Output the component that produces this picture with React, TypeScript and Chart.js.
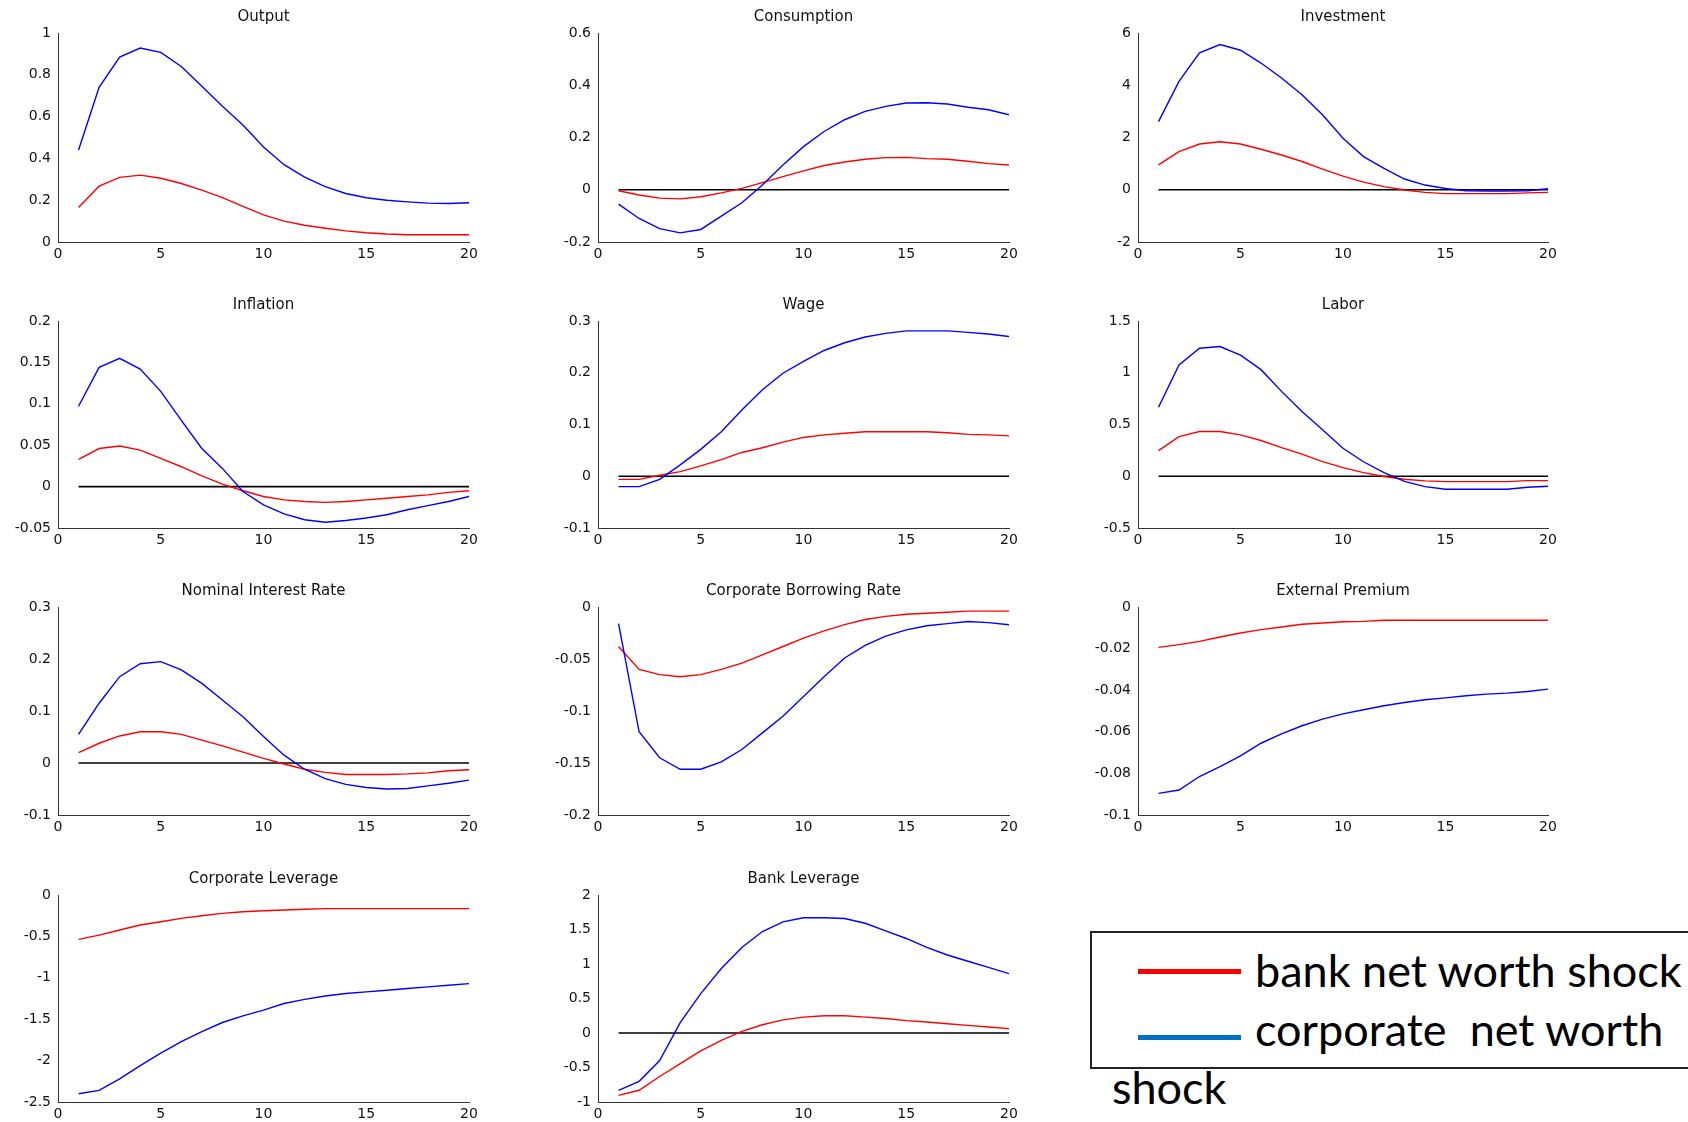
import React, { useEffect, useRef } from "react";
import { Chart, registerables } from "chart.js";

Chart.register(...registerables);

// ---- data ----
const periods = [1, 2, 3, 4, 5, 6, 7, 8, 9, 10, 11, 12, 13, 14, 15, 16, 17, 18, 19, 20];
const xTicks = [0, 5, 10, 15, 20];

const outputCorp = [0.44, 0.74, 0.885, 0.928, 0.907, 0.84, 0.745, 0.65, 0.56, 0.455, 0.37, 0.31, 0.265, 0.232, 0.212, 0.2, 0.192, 0.186, 0.184, 0.188];
const outputBank = [0.165, 0.267, 0.309, 0.32, 0.305, 0.28, 0.248, 0.212, 0.17, 0.13, 0.1, 0.08, 0.066, 0.053, 0.044, 0.038, 0.035, 0.035, 0.035, 0.035];

const consCorp = [-0.055, -0.11, -0.149, -0.165, -0.152, -0.101, -0.05, 0.018, 0.095, 0.165, 0.223, 0.268, 0.3, 0.319, 0.332, 0.333, 0.328, 0.316, 0.306, 0.287];
const consBank = [-0.004, -0.02, -0.032, -0.035, -0.027, -0.012, 0.005, 0.027, 0.05, 0.072, 0.093, 0.106, 0.117, 0.123, 0.124, 0.119, 0.117, 0.109, 0.1, 0.095];

const invCorp = [2.61, 4.15, 5.24, 5.56, 5.34, 4.85, 4.28, 3.64, 2.87, 1.97, 1.27, 0.82, 0.41, 0.18, 0.05, -0.04, -0.05, -0.05, -0.04, 0.04];
const invBank = [0.95, 1.46, 1.75, 1.84, 1.75, 1.55, 1.33, 1.08, 0.79, 0.52, 0.29, 0.12, -0.01, -0.1, -0.15, -0.15, -0.15, -0.15, -0.12, -0.1];

const inflCorp = [0.097, 0.144, 0.155, 0.142, 0.115, 0.08, 0.046, 0.022, -0.006, -0.022, -0.033, -0.04, -0.043, -0.041, -0.038, -0.034, -0.028, -0.023, -0.018, -0.012];
const inflBank = [0.033, 0.046, 0.049, 0.044, 0.034, 0.024, 0.013, 0.003, -0.005, -0.012, -0.016, -0.018, -0.019, -0.018, -0.016, -0.014, -0.012, -0.01, -0.007, -0.005];

const wageCorp = [-0.02, -0.02, -0.006, 0.022, 0.052, 0.086, 0.128, 0.167, 0.199, 0.222, 0.243, 0.258, 0.269, 0.276, 0.281, 0.281, 0.281, 0.278, 0.275, 0.27];
const wageBank = [-0.006, -0.006, 0.002, 0.009, 0.02, 0.032, 0.046, 0.055, 0.066, 0.075, 0.08, 0.083, 0.086, 0.086, 0.086, 0.086, 0.084, 0.081, 0.08, 0.078];

const laborCorp = [0.667, 1.076, 1.237, 1.253, 1.17, 1.03, 0.82, 0.625, 0.45, 0.27, 0.14, 0.035, -0.05, -0.1, -0.125, -0.125, -0.125, -0.125, -0.106, -0.097];
const laborBank = [0.248, 0.383, 0.432, 0.432, 0.4, 0.345, 0.277, 0.213, 0.142, 0.084, 0.035, -0.003, -0.029, -0.045, -0.052, -0.052, -0.052, -0.052, -0.042, -0.042];

const rateCorp = [0.055, 0.115, 0.166, 0.191, 0.195, 0.179, 0.153, 0.121, 0.089, 0.051, 0.015, -0.012, -0.03, -0.041, -0.047, -0.05, -0.049, -0.044, -0.039, -0.033];
const rateBank = [0.02, 0.038, 0.052, 0.06, 0.06, 0.055, 0.044, 0.033, 0.021, 0.009, -0.002, -0.012, -0.018, -0.022, -0.022, -0.022, -0.021, -0.019, -0.015, -0.013];

const cbrCorp = [-0.016, -0.12, -0.145, -0.156, -0.156, -0.149, -0.137, -0.121, -0.105, -0.086, -0.067, -0.049, -0.037, -0.028, -0.022, -0.018, -0.016, -0.014, -0.015, -0.017];
const cbrBank = [-0.038, -0.06, -0.065, -0.067, -0.065, -0.06, -0.054, -0.046, -0.038, -0.03, -0.023, -0.017, -0.012, -0.009, -0.007, -0.006, -0.005, -0.004, -0.004, -0.004];

const epCorp = [-0.0896, -0.088, -0.0815, -0.0767, -0.0716, -0.0655, -0.061, -0.0571, -0.0539, -0.0514, -0.0494, -0.0475, -0.0459, -0.0446, -0.0437, -0.0427, -0.0419, -0.0414, -0.0406, -0.0395];
const epBank = [-0.0194, -0.0181, -0.0165, -0.0144, -0.0125, -0.0109, -0.0096, -0.0083, -0.0077, -0.0071, -0.0069, -0.0064, -0.0064, -0.0064, -0.0064, -0.0064, -0.0064, -0.0064, -0.0064, -0.0064];

const clCorp = [-2.4, -2.36, -2.22, -2.06, -1.91, -1.77, -1.65, -1.54, -1.46, -1.39, -1.31, -1.26, -1.22, -1.19, -1.17, -1.15, -1.13, -1.11, -1.09, -1.07];
const clBank = [-0.536, -0.484, -0.423, -0.363, -0.323, -0.282, -0.25, -0.222, -0.202, -0.19, -0.181, -0.173, -0.165, -0.165, -0.165, -0.165, -0.165, -0.165, -0.165, -0.165];

const blCorp = [-0.83, -0.7, -0.4, 0.15, 0.571, 0.934, 1.24, 1.47, 1.61, 1.67, 1.67, 1.66, 1.59, 1.48, 1.37, 1.24, 1.13, 1.04, 0.95, 0.86];
const blBank = [-0.905, -0.83, -0.63, -0.445, -0.26, -0.106, 0.024, 0.12, 0.19, 0.23, 0.25, 0.25, 0.23, 0.21, 0.18, 0.16, 0.135, 0.11, 0.087, 0.063];

const titles = [
  "Output", "Consumption", "Investment",
  "Inflation", "Wage", "Labor",
  "Nominal Interest Rate", "Corporate Borrowing Rate", "External Premium",
  "Corporate Leverage", "Bank Leverage",
];
const corpSeries = [outputCorp, consCorp, invCorp, inflCorp, wageCorp, laborCorp, rateCorp, cbrCorp, epCorp, clCorp, blCorp];
const bankSeries = [outputBank, consBank, invBank, inflBank, wageBank, laborBank, rateBank, cbrBank, epBank, clBank, blBank];
// y-axis tick labels: [min, max, step]
const yTickRanges = [
  [0, 1, 0.2], [-0.2, 0.6, 0.2], [-2, 6, 2],
  [-0.05, 0.2, 0.05], [-0.1, 0.3, 0.1], [-0.5, 1.5, 0.5],
  [-0.1, 0.3, 0.1], [-0.2, 0, 0.05], [-0.1, 0, 0.02],
  [-2.5, 0, 0.5], [-1, 2, 0.5],
];
const hasZeroLine = [false, true, true, true, true, true, true, false, false, false, true];
const legendLabels = ["bank net worth shock", "corporate  net worth", "shock"];

// ---- layout (plot-area boxes) ----
const colLeft = [58, 598, 1138];
const colRight = [469, 1009, 1548];
const rowTop = [33, 321, 607, 895];
const rowBottom = [242, 528, 815, 1102];
const PAD_L = 72;
const PAD_R = 24;
const PAD_T = 34;
const PAD_B = 28;

const FONT = "'DejaVu Sans', sans-serif";

function fmt(v: number) {
  return String(Math.round(v * 1e6) / 1e6);
}

function Panel(props: { idx: number }) {
  const { idx } = props;
  const ref = useRef<HTMLCanvasElement | null>(null);
  const col = idx % 3;
  const row = Math.floor(idx / 3);
  const L = colLeft[col];
  const R = colRight[col];
  const T = rowTop[row];
  const B = rowBottom[row];
  const w = R - L + PAD_L + PAD_R;
  const h = B - T + PAD_T + PAD_B;

  useEffect(() => {
    if (!ref.current) return;
    const [yMin, yMax, yStep] = yTickRanges[idx];
    const datasets: any[] = [
      {
        label: "corp",
        data: periods.map((p, i) => ({ x: p, y: corpSeries[idx][i] })),
        borderColor: "#0000ff",
        borderWidth: 1.4,
        pointRadius: 0,
        fill: false,
        tension: 0,
      },
      {
        label: "bank",
        data: periods.map((p, i) => ({ x: p, y: bankSeries[idx][i] })),
        borderColor: "#ff0000",
        borderWidth: 1.4,
        pointRadius: 0,
        fill: false,
        tension: 0,
      },
    ];
    if (hasZeroLine[idx]) {
      datasets.push({
        label: "zero",
        data: [
          { x: periods[0], y: 0 },
          { x: periods[periods.length - 1], y: 0 },
        ],
        borderColor: "#000000",
        borderWidth: 1.6,
        pointRadius: 0,
        fill: false,
      });
    }
    const titlePlugin = {
      id: "panelTitle",
      afterDraw(chart: any) {
        const { ctx, chartArea } = chart;
        ctx.save();
        ctx.font = `15px ${FONT}`;
        ctx.fillStyle = "#111";
        ctx.textAlign = "center";
        ctx.textBaseline = "middle";
        ctx.fillText(titles[idx], (chartArea.left + chartArea.right) / 2, chartArea.top - 16);
        ctx.restore();
      },
    };
    const chart = new Chart(ref.current, {
      type: "line",
      data: { datasets },
      options: {
        animation: false,
        responsive: false,
        maintainAspectRatio: false,
        events: [],
        layout: { padding: { left: 0, top: PAD_T, right: PAD_R, bottom: 0 } },
        plugins: { legend: { display: false }, tooltip: { enabled: false }, title: { display: false } },
        scales: {
          x: {
            type: "linear",
            min: xTicks[0],
            max: xTicks[xTicks.length - 1],
            afterBuildTicks: (s: any) => {
              s.ticks = xTicks.map((v) => ({ value: v }));
            },
            afterFit: (s: any) => {
              s.height = PAD_B;
            },
            grid: { display: false, drawTicks: false },
            border: { display: true, color: "#333", width: 1 },
            ticks: {
              font: { family: FONT, size: 14 },
              color: "#111",
              padding: 4,
              maxRotation: 0,
              autoSkip: false,
              callback: (v: any) => fmt(Number(v)),
            },
          },
          y: {
            type: "linear",
            min: yMin,
            max: yMax,
            afterFit: (s: any) => {
              s.width = PAD_L;
            },
            grid: { display: false, drawTicks: false },
            border: { display: true, color: "#333", width: 1 },
            ticks: {
              stepSize: yStep,
              font: { family: FONT, size: 14 },
              color: "#111",
              padding: 7,
              autoSkip: false,
              callback: (v: any) => fmt(Number(v)),
            },
          },
        },
      },
      plugins: [titlePlugin],
    } as any);
    return () => chart.destroy();
  }, [idx]);

  return (
    <canvas
      ref={ref}
      width={w}
      height={h}
      style={{ position: "absolute", left: L - PAD_L, top: T - PAD_T, width: w, height: h }}
    />
  );
}

export default function App() {
  const textStyle: React.CSSProperties = {
    position: "absolute",
    fontFamily: "Lato, 'Open Sans', sans-serif",
    fontSize: 45,
    lineHeight: "1",
    color: "#000",
    whiteSpace: "pre",
  };
  return (
    <div
      style={{
        position: "absolute",
        left: 0,
        top: 0,
        width: 1688,
        height: 1122,
        overflow: "hidden",
        background: "#fff",
      }}
    >
      {titles.map((_, i) => (
        <Panel key={i} idx={i} />
      ))}
      <div
        style={{
          position: "absolute",
          left: 1090,
          top: 931,
          width: 640,
          height: 138,
          border: "2px solid #222",
          boxSizing: "border-box",
        }}
      />
      <div style={{ position: "absolute", left: 1138, top: 969, width: 103, height: 5, background: "#ff0000" }} />
      <div style={{ position: "absolute", left: 1138, top: 1035, width: 103, height: 5, background: "#0070c0" }} />
      <div style={{ ...textStyle, left: 1255, top: 948 }}>{legendLabels[0]}</div>
      <div style={{ ...textStyle, left: 1255, top: 1007 }}>{legendLabels[1]}</div>
      <div style={{ ...textStyle, left: 1112, top: 1065 }}>{legendLabels[2]}</div>
    </div>
  );
}
